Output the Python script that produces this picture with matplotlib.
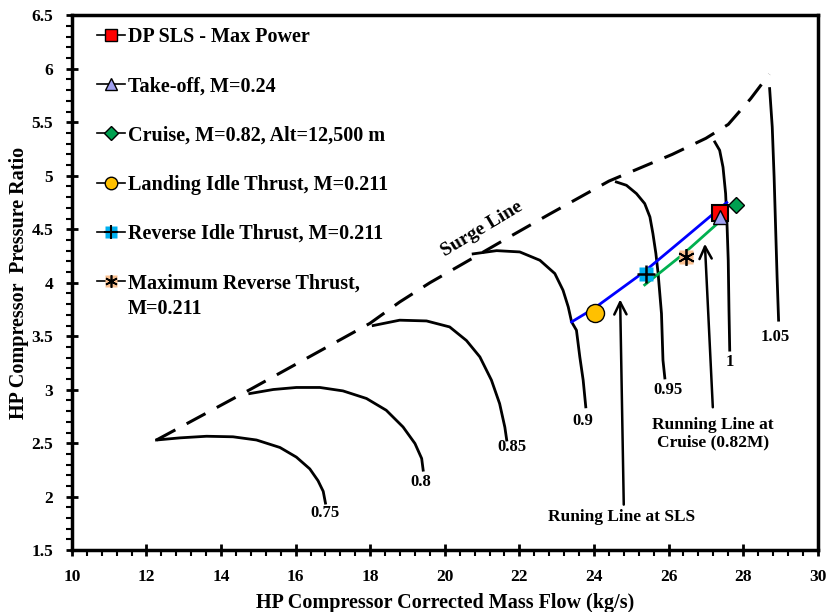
import matplotlib
matplotlib.use('Agg')
from matplotlib import pyplot as plt
from matplotlib.lines import Line2D
from matplotlib.legend_handler import HandlerTuple
from matplotlib.ticker import MultipleLocator, FormatStrFormatter

plt.rcParams['font.family'] = 'Liberation Serif'
plt.rcParams['font.weight'] = 'bold'

# surge line
surge_x = [12.27, 14.77, 17.99, 18.79, 19.6, 20.5, 21.74, 22.8, 24.4, 26.1, 27.0, 27.6, 28.2, 28.7]
surge_y = [2.53, 3.0, 3.62, 3.82, 4.0, 4.18, 4.43, 4.64, 4.95, 5.2, 5.35, 5.48, 5.72, 5.95]

# constant speed lines
speed_075_x = [12.27, 12.9, 13.61, 14.32, 14.95, 15.58, 16.02, 16.38, 16.6, 16.74, 16.8]
speed_075_y = [2.53, 2.55, 2.565, 2.56, 2.53, 2.46, 2.37, 2.26, 2.15, 2.05, 1.94]
speed_080_x = [14.77, 15.4, 16.02, 16.65, 17.27, 17.9, 18.43, 18.88, 19.2, 19.38, 19.42]
speed_080_y = [2.964, 3.002, 3.021, 3.021, 2.989, 2.918, 2.808, 2.652, 2.497, 2.357, 2.248]
speed_085_x = [18.08, 18.79, 19.51, 20.13, 20.58, 20.94, 21.25, 21.47, 21.61, 21.66]
speed_085_y = [3.60, 3.65, 3.643, 3.587, 3.46, 3.307, 3.09, 2.87, 2.65, 2.53]
speed_090_x = [20.76, 21.39, 22.01, 22.55, 22.95, 23.17, 23.31, 23.40, 23.53, 23.62, 23.71, 23.78]
speed_090_y = [4.27, 4.30, 4.288, 4.21, 4.086, 3.93, 3.774, 3.634, 3.556, 3.307, 3.09, 2.84]
speed_095_x = [24.6, 24.87, 25.14, 25.36, 25.5, 25.58, 25.66, 25.72, 25.81, 25.85, 25.9]
speed_095_y = [4.942, 4.911, 4.833, 4.74, 4.615, 4.46, 4.273, 4.086, 3.712, 3.276, 3.11]
speed_100_x = [27.24, 27.37, 27.46, 27.53, 27.57, 27.6, 27.62, 27.64]
speed_100_y = [5.316, 5.238, 5.08, 4.833, 4.52, 4.21, 3.743, 3.37]
speed_105_x = [28.71, 28.78, 28.83, 28.87, 28.91, 28.95]
speed_105_y = [5.815, 5.456, 4.99, 4.52, 4.054, 3.65]

speed_labels = ['0.75', '0.8', '0.85', '0.9', '0.95', '1', '1.05']
label_x = [16.78, 19.36, 21.8, 23.71, 25.98, 27.64, 28.85]
label_y = [1.85, 2.14, 2.46, 2.71, 3.0, 3.26, 3.49]

# running lines
sls_x = [23.40, 24.0, 25.3, 26.4, 27.56]
sls_y = [3.634, 3.76, 4.09, 4.41, 4.75]
cruise_x = [25.36, 26.4, 27.3]
cruise_y = [3.98, 4.27, 4.55]

# operating points
dp_sls = (27.37, 4.65)
takeoff = (27.37, 4.61)
cruise_pt = (27.8, 4.73)
landing_idle = (24.02, 3.72)
reverse_idle = (25.4, 4.08)
max_reverse = (26.46, 4.24)

fig = plt.figure(figsize=(8.26, 6.12), dpi=100)
ax = fig.add_axes([0.087, 0.101, 0.903, 0.874])

ax.plot(surge_x, surge_y, color='black', lw=2.2, dashes=(7, 4.2))
for sx, sy in [(speed_075_x, speed_075_y), (speed_080_x, speed_080_y),
               (speed_085_x, speed_085_y), (speed_090_x, speed_090_y),
               (speed_095_x, speed_095_y), (speed_100_x, speed_100_y),
               (speed_105_x, speed_105_y)]:
    ax.plot(sx, sy, color='black', lw=2, solid_joinstyle='round')
for i in range(len(speed_labels)):
    ax.text(label_x[i], label_y[i], speed_labels[i], fontsize=12,
            ha='center', va='center')

ax.plot(sls_x, sls_y, color='#0000FF', lw=2)
ax.plot(cruise_x, cruise_y, color='#00B050', lw=2)

ax.text(20.99, 4.5, 'Surge Line', fontsize=14, rotation=31,
        ha='center', va='center')

# arrows
ax.annotate('', xy=(24.7, 3.87), xytext=(24.8, 1.9),
            arrowprops=dict(arrowstyle='->', lw=1.8, color='black',
                            mutation_scale=22))
ax.text(24.75, 1.81, 'Runing Line at SLS', fontsize=12.5, ha='center', va='center')
ax.annotate('', xy=(26.97, 4.39), xytext=(27.19, 2.81),
            arrowprops=dict(arrowstyle='->', lw=1.8, color='black',
                            mutation_scale=22))
ax.text(27.19, 2.59, 'Running Line at\nCruise (0.82M)', fontsize=12.5,
        ha='center', va='center', linespacing=1.1)

# markers
ax.plot(*dp_sls, marker='s', ms=12, mfc='#FF0000', mec='black', mew=1.5)
ax.plot(*takeoff, marker='^', ms=10, mfc='#A0A0F0', mec='black', mew=1)
ax.plot(*cruise_pt, marker='D', ms=8, mfc='#00A050', mec='black', mew=1)
ax.plot(*landing_idle, marker='o', ms=13, mfc='#FFC000', mec='black', mew=1)
ax.plot(*reverse_idle, marker='s', ms=10, mfc='#00B0F0', mec='none')
ax.plot(*reverse_idle, marker='+', ms=13, mec='black', mew=1.8)
ax.plot(*max_reverse, marker='s', ms=10, mfc='#FAC090', mec='none')
ax.plot(*max_reverse, marker=(6, 2, 0), ms=12, mec='black', mew=1.3)

# legend
h1 = Line2D([], [], color='black', lw=1.2, marker='s', ms=9, mfc='#FF0000', mec='black')
h2 = Line2D([], [], color='black', lw=1.2, marker='^', ms=9, mfc='#A0A0F0', mec='black')
h3 = Line2D([], [], color='black', lw=1.2, marker='D', ms=7, mfc='#00A050', mec='black')
h4 = Line2D([], [], color='black', lw=1.2, marker='o', ms=9, mfc='#FFC000', mec='black')
h5a = Line2D([], [], color='black', lw=1.2, marker='s', ms=8, mfc='#00B0F0', mec='none')
h5b = Line2D([], [], color='none', marker='+', ms=10, mec='black', mew=1.5)
h6a = Line2D([], [], color='black', lw=1.2, marker='s', ms=8, mfc='#FAC090', mec='none')
h6b = Line2D([], [], color='none', marker=(6, 2, 0), ms=9, mec='black', mew=1.2)
leg = ax.legend([h1, h2, h3, h4, (h5a, h5b), (h6a, h6b)],
                ['DP SLS - Max Power', 'Take-off, M=0.24',
                 'Cruise, M=0.82, Alt=12,500 m', 'Landing Idle Thrust, M=0.211',
                 'Reverse Idle Thrust, M=0.211', 'Maximum Reverse Thrust,'],
                handler_map={tuple: HandlerTuple(ndivide=1)},
                loc='upper left', bbox_to_anchor=(0.023, 0.993), frameon=False,
                fontsize=14.5, labelspacing=1.45, handlelength=1.4,
                handletextpad=0.15, borderaxespad=0)
# second line of the last legend label
ax.text(0.0755, 0.451, 'M=0.211', transform=ax.transAxes, fontsize=14.5,
        ha='left', va='center')

ax.set_xlim(10, 30)
ax.set_ylim(1.5, 6.5)
ax.xaxis.set_major_locator(MultipleLocator(2))
ax.xaxis.set_minor_locator(MultipleLocator(0.4))
ax.yaxis.set_major_locator(MultipleLocator(0.5))
ax.yaxis.set_minor_locator(MultipleLocator(0.1))
ax.yaxis.set_major_formatter(FormatStrFormatter('%g'))
ax.tick_params(which='major', direction='inout', length=9, width=2, labelsize=12.5)
ax.tick_params(axis='x', which='major', pad=9)
ax.tick_params(axis='y', which='major', pad=9)
ax.tick_params(which='minor', direction='out', length=4, width=1.5)
for s in ax.spines.values():
    s.set_linewidth(2.5)

ax.set_xlabel('HP Compressor Corrected Mass Flow (kg/s)', fontsize=14.5,
              fontweight='bold', labelpad=6)
ax.set_ylabel('HP Compressor  Pressure Ratio', fontsize=14.5,
              fontweight='bold', labelpad=2)

plt.savefig('out.png', dpi=100)
